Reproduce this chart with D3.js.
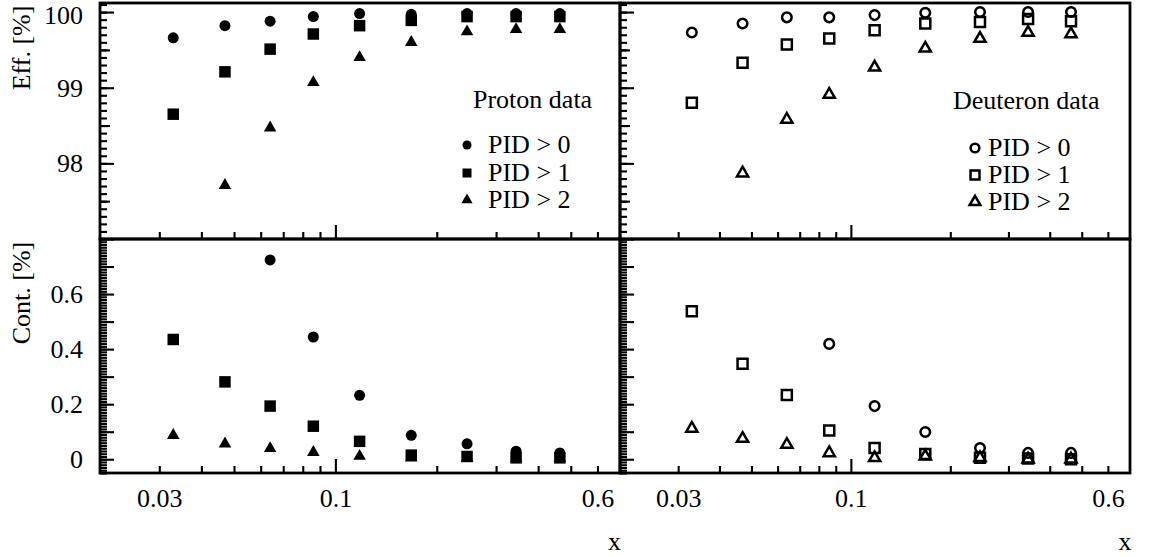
<!DOCTYPE html>
<html>
<head>
<meta charset="utf-8">
<script src="https://cdn.jsdelivr.net/npm/d3@7"></script>
<style>
  body { margin: 0; background: #fff; }
  svg { font-family: "Liberation Serif", "Times New Roman", serif; }
</style>
</head>
<body>
<svg width="1159" height="557"></svg>
<script>
// x bins (same for both targets)
var xValues = [0.033, 0.047, 0.064, 0.086, 0.118, 0.168, 0.246, 0.344, 0.464];

// efficiency [%], null = off scale
var protonEff0 = [99.66, 99.82, 99.88, 99.94, 99.98, 99.97, 99.98, 99.98, 99.98];
var protonEff1 = [98.65, 99.21, 99.51, 99.71, 99.82, 99.89, 99.94, 99.94, 99.94];
var protonEff2 = [null, 97.71, 98.47, 99.07, 99.40, 99.60, 99.74, 99.77, 99.77];
var deuteronEff0 = [99.73, 99.85, 99.93, 99.93, 99.96, 99.99, 100.0, 100.0, 100.0];
var deuteronEff1 = [98.80, 99.33, 99.57, 99.65, 99.76, 99.85, 99.87, 99.91, 99.88];
var deuteronEff2 = [null, 97.87, 98.58, 98.91, 99.27, 99.52, 99.65, 99.73, 99.71];

// contamination [%]
var protonCont0 = [null, null, 0.724, 0.444, 0.232, 0.087, 0.056, 0.029, 0.023];
var protonCont1 = [0.435, 0.281, 0.193, 0.120, 0.065, 0.015, 0.010, 0.005, 0.005];
var protonCont2 = [0.087, 0.056, 0.039, 0.025, 0.011, 0.005, 0.003, 0.003, 0.003];
var deuteronCont0 = [null, null, null, 0.419, 0.193, 0.099, 0.041, 0.023, 0.023];
var deuteronCont1 = [0.538, 0.347, 0.233, 0.104, 0.041, 0.019, 0.005, 0.003, 0.0];
var deuteronCont2 = [0.112, 0.075, 0.053, 0.023, 0.005, 0.011, 0.005, 0.0, 0.0];

var seriesNames = ["PID > 0", "PID > 1", "PID > 2"];
var xTickLabels = [0.03, 0.1, 0.6];
var effTickLabels = [98, 99, 100];
var contTickLabels = [0, 0.2, 0.4, 0.6];

var svg = d3.select("svg");
var FONT = 26;

var top0 = 3, mid = 239, bot = 473;
var leftPanel = {x0: 100, x1: 620}, rightPanel = {x0: 620, x1: 1130};

var yEff = d3.scaleLinear().domain([97, 100.12]).range([mid, top0]);
var yCont = d3.scaleLinear().domain([-0.05, 0.8]).range([bot, mid]);

var symbols = [d3.symbolCircle, d3.symbolSquare, d3.symbolTriangle];
var filledSizes = [95, 132, 68];
var openSizes = [72, 100, 54];

function style(g) {
  g.select(".domain").remove();
  g.selectAll("line").attr("stroke", "#000").attr("stroke-width", 2.1);
  g.attr("font-family", null).attr("font-size", FONT);
  g.selectAll("text").attr("fill", "#000");
}

function xAxes(x, yPos, labels) {
  var minor = [0.03, 0.04, 0.05, 0.06, 0.07, 0.08, 0.09, 0.2, 0.3, 0.4, 0.5, 0.6];
  svg.append("g").attr("transform", "translate(0," + yPos + ")")
    .call(d3.axisTop(x).tickValues(minor).tickSize(7).tickFormat(""))
    .call(style);
  svg.append("g").attr("transform", "translate(0," + yPos + ")")
    .call(d3.axisTop(x).tickValues([0.1]).tickSize(14).tickFormat(""))
    .call(style);
  if (labels) {
    svg.append("g").attr("transform", "translate(0," + yPos + ")")
      .call(d3.axisBottom(x).tickValues(xTickLabels).tickSize(0).tickPadding(16)
        .tickFormat(d3.format("")))
      .call(style);
  }
}

function yAxes(y, xPos, minorVals, medVals, majorVals, labelVals) {
  svg.append("g").attr("transform", "translate(" + xPos + ",0)")
    .call(d3.axisRight(y).tickValues(minorVals).tickSize(7).tickFormat(""))
    .call(style);
  if (medVals.length) {
    svg.append("g").attr("transform", "translate(" + xPos + ",0)")
      .call(d3.axisRight(y).tickValues(medVals).tickSize(10).tickFormat(""))
      .call(style);
  }
  svg.append("g").attr("transform", "translate(" + xPos + ",0)")
    .call(d3.axisRight(y).tickValues(majorVals).tickSize(14).tickFormat(""))
    .call(style);
  if (labelVals) {
    var g = svg.append("g").attr("transform", "translate(" + xPos + ",0)")
      .call(d3.axisLeft(y).tickValues(labelVals).tickSize(0).tickPadding(17)
        .tickFormat(d3.format("")))
      .call(style);
    // top label sits at the very edge of the page: nudge it inside
    g.selectAll(".tick text").filter(function(d) { return d === 100; })
      .attr("dy", "0.45em");
  }
}

function points(x, y, series, open) {
  series.forEach(function(vals, i) {
    var sym = d3.symbol().type(symbols[i]).size(open ? openSizes[i] : filledSizes[i]);
    svg.append("g").selectAll("path")
      .data(vals.map(function(v, j) { return {x: xValues[j], v: v}; })
        .filter(function(d) { return d.v !== null; }))
      .enter().append("path")
      .attr("d", sym)
      .attr("transform", function(d) { return "translate(" + x(d.x) + "," + y(d.v) + ")"; })
      .attr("fill", open ? "none" : "#000")
      .attr("stroke", "#000")
      .attr("stroke-width", open ? 2.5 : 0);
  });
}

function legend(title, tx, ty, sx, textX, rowsY, open) {
  svg.append("text").attr("x", tx).attr("y", ty).attr("font-size", FONT).text(title);
  seriesNames.forEach(function(name, i) {
    var sizes = open ? [60, 80, 50] : [64, 81, 55];
    svg.append("path")
      .attr("d", d3.symbol().type(symbols[i]).size(sizes[i]))
      .attr("transform", "translate(" + sx + "," + (rowsY[i] - 8) + ")")
      .attr("fill", open ? "none" : "#000")
      .attr("stroke", "#000")
      .attr("stroke-width", open ? 2.5 : 0);
    svg.append("text").attr("x", textX).attr("y", rowsY[i]).attr("font-size", FONT).text(name);
  });
}

var panels = [
  {p: leftPanel, eff: [protonEff0, protonEff1, protonEff2], cont: [protonCont0, protonCont1, protonCont2], open: false, labels: true},
  {p: rightPanel, eff: [deuteronEff0, deuteronEff1, deuteronEff2], cont: [deuteronCont0, deuteronCont1, deuteronCont2], open: true, labels: false}
];

var effMinor = d3.range(970, 1002).map(function(d) { return d / 10; });
var effMed = [97.5, 98.5, 99.5];
var effMajor = [97, 98, 99, 100];
var contMinor = d3.range(-5, 80).map(function(d) { return d / 100; });
var contMajor = d3.range(0, 8).map(function(d) { return d / 10; });

panels.forEach(function(pn) {
  var x = d3.scaleLog().domain([0.02, 0.7]).range([pn.p.x0, pn.p.x1]);

  xAxes(x, mid, false);
  xAxes(x, bot, true);
  yAxes(yEff, pn.p.x0, effMinor, effMed, effMajor, pn.labels ? effTickLabels : null);
  yAxes(yCont, pn.p.x0, contMinor, [], contMajor, pn.labels ? contTickLabels : null);

  points(x, yEff, pn.eff, pn.open);
  points(x, yCont, pn.cont, pn.open);

  svg.append("rect").attr("x", pn.p.x0).attr("y", top0)
    .attr("width", pn.p.x1 - pn.p.x0).attr("height", mid - top0)
    .attr("fill", "none").attr("stroke", "#000").attr("stroke-width", 2.8);
  svg.append("rect").attr("x", pn.p.x0).attr("y", mid)
    .attr("width", pn.p.x1 - pn.p.x0).attr("height", bot - mid)
    .attr("fill", "none").attr("stroke", "#000").attr("stroke-width", 2.8);

  svg.append("text").attr("x", x(0.6) + 17).attr("y", 550)
    .attr("text-anchor", "middle").attr("font-size", FONT).text("x");
});

legend("Proton data", 473, 108, 467, 488, [153, 181, 208], false);
legend("Deuteron data", 953, 109, 975, 988, [156, 183, 210], true);

svg.append("text").attr("transform", "translate(30,48) rotate(-90)")
  .attr("text-anchor", "middle").attr("font-size", FONT).text("Eff. [%]");
svg.append("text").attr("transform", "translate(30,293) rotate(-90)")
  .attr("text-anchor", "middle").attr("font-size", FONT).text("Cont. [%]");
</script>
</body>
</html>
